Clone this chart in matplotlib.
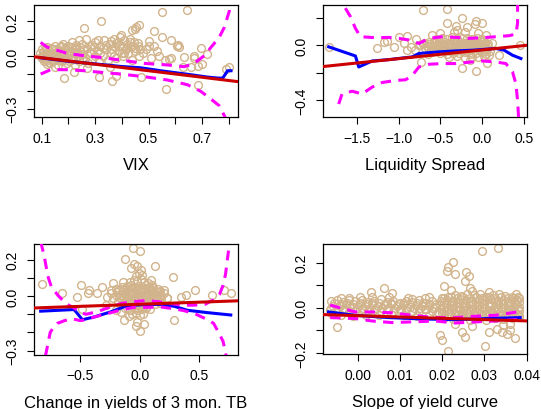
#!/usr/bin/env python3
"""
Four partial-effect panels: scatter of residuals vs. each regressor, with a
smooth fit (blue), its pointwise band (magenta dashes) and the linear fit (red).
Writes out.png.
"""
import matplotlib
matplotlib.use("Agg")
import matplotlib.pyplot as plt

# ---------------- VIX ----------------
vix_x = [0.095, 0.10, 0.10, 0.105, 0.11, 0.11, 0.115, 0.12, 0.12, 0.125,
         0.13, 0.135, 0.14, 0.14, 0.145, 0.15, 0.155, 0.16, 0.16, 0.165,
         0.17, 0.175, 0.18, 0.18, 0.185, 0.19, 0.195, 0.20, 0.20, 0.205,
         0.21, 0.215, 0.22, 0.225, 0.23, 0.235, 0.24, 0.24, 0.245, 0.25,
         0.255, 0.26, 0.265, 0.27, 0.275, 0.28, 0.285, 0.29, 0.295, 0.30,
         0.31, 0.315, 0.32, 0.33, 0.335, 0.34, 0.35, 0.355, 0.36, 0.37,
         0.375, 0.38, 0.385, 0.39, 0.395, 0.40, 0.405, 0.41, 0.415, 0.42,
         0.425, 0.43, 0.435, 0.44, 0.445, 0.45, 0.46, 0.465, 0.47, 0.48,
         0.55, 0.646, 0.321, 0.259, 0.465, 0.455, 0.448, 0.44, 0.396, 0.521,
         0.55, 0.584, 0.61, 0.605, 0.615, 0.696, 0.721, 0.67, 0.672, 0.634,
         0.585, 0.575, 0.684, 0.70, 0.66, 0.628, 0.565, 0.684, 0.79, 0.80,
         0.365, 0.184, 0.221, 0.315, 0.378, 0.471, 0.359, 0.50, 0.52, 0.53,
         0.49, 0.51, 0.54, 0.56, 0.12, 0.15, 0.50, 0.46, 0.355, 0.27]
vix_y = [0.02, -0.01, 0.04, 0.00, 0.03, -0.03, 0.01, 0.05, -0.02, 0.02,
         -0.04, 0.00, 0.04, -0.02, 0.02, 0.06, -0.01, 0.03, -0.05, 0.01,
         0.05, -0.03, 0.02, 0.07, -0.01, 0.04, -0.04, 0.01, 0.06, 0.03,
         -0.02, 0.08, 0.02, -0.05, 0.05, 0.00, 0.09, -0.03, 0.03, 0.07,
         -0.01, 0.04, 0.10, 0.01, -0.04, 0.06, 0.02, -0.02, 0.05, 0.08,
         0.03, -0.03, 0.06, 0.00, 0.09, 0.04, -0.02, 0.07, 0.02, 0.10,
         0.05, -0.01, 0.08, 0.03, 0.11, 0.06, 0.00, 0.09, 0.04, 0.07,
         0.02, 0.10, 0.05, -0.02, 0.08, 0.03, 0.06, 0.00, 0.04, 0.02,
         0.25, 0.263, 0.202, 0.16, 0.179, 0.165, 0.155, 0.15, 0.12, 0.145,
         0.107, 0.091, 0.065, 0.055, 0.05, 0.044, 0.011, 0.003, -0.01, -0.008,
         -0.01, -0.015, -0.055, -0.045, -0.06, -0.065, -0.189, -0.166, -0.075, -0.065,
         -0.141, -0.126, -0.093, -0.118, -0.112, -0.122, 0.088, 0.06, 0.055, 0.03,
         0.04, -0.01, 0.00, -0.02, -0.046, -0.06, 0.085, 0.075, -0.06, -0.07]
# extra points filling the dense part of the cloud
vix_core_x = [0.098, 0.103, 0.108, 0.113, 0.118, 0.123, 0.128, 0.133, 0.138, 0.143,
              0.148, 0.153, 0.158, 0.163, 0.168, 0.173, 0.178, 0.183, 0.188, 0.193,
              0.198, 0.203, 0.208, 0.213, 0.218, 0.223, 0.228, 0.233, 0.238, 0.243,
              0.25, 0.26, 0.27, 0.28, 0.29, 0.30, 0.32, 0.34, 0.36, 0.38,
              0.40, 0.42, 0.44, 0.33, 0.31, 0.37, 0.39, 0.41, 0.43, 0.45]
vix_core_y = [-0.005, 0.015, -0.015, 0.045, 0.005, -0.035, 0.03, 0.045, 0.01, -0.03,
              0.0, 0.04, 0.015, -0.025, 0.025, 0.055, -0.02, 0.01, 0.045, -0.01,
              0.025, -0.03, 0.05, 0.015, -0.01, 0.04, 0.065, 0.02, -0.015, 0.05,
              0.01, -0.02, 0.045, 0.025, 0.065, 0.0, 0.015, 0.065, 0.04, 0.075,
              0.02, 0.045, 0.06, 0.045, 0.09, 0.0, 0.055, 0.015, 0.08, 0.045]
vix_fit_x = [0.095, 0.2, 0.3, 0.4, 0.47, 0.55, 0.65, 0.72, 0.76, 0.778, 0.79, 0.796, 0.809]
vix_fit_y = [-0.01, -0.03, -0.045, -0.06, -0.067, -0.085, -0.105, -0.12, -0.126, -0.126, -0.099, -0.084, -0.084]
vix_up_x = [0.096, 0.121, 0.196, 0.259, 0.321, 0.396, 0.484, 0.571, 0.634, 0.671, 0.709, 0.734, 0.765, 0.784, 0.803, 0.806]
vix_up_y = [0.078, 0.05, 0.015, 0.002, -0.008, -0.023, -0.042, -0.051, -0.061, -0.042, 0.002, 0.05, 0.107, 0.164, 0.259, 0.297]
vix_lo_x = [0.096, 0.134, 0.196, 0.259, 0.321, 0.396, 0.484, 0.571, 0.646, 0.696, 0.734, 0.765, 0.784, 0.79]
vix_lo_y = [-0.103, -0.078, -0.078, -0.084, -0.093, -0.103, -0.118, -0.137, -0.164, -0.202, -0.246, -0.284, -0.341, -0.36]
vix_lin = (0.009, -0.186)  # intercept, slope

# ---------------- Liquidity spread ----------------
liq_x = [-0.55, -0.48, -0.42, -0.36, -0.3, -0.24, -0.18, -0.12, -0.06, 0.0,
         -0.7, -0.63, -0.57, -0.51, -0.45, -0.39, -0.33, -0.27, -0.21, -0.15, -0.09, -0.03, 0.03,
         -0.74, -0.66, -0.6, -0.54, -0.48, -0.42, -0.36, -0.3, -0.24, -0.18, -0.12, -0.06, 0.0, 0.06,
         -0.68, -0.61, -0.55, -0.49, -0.43, -0.37, -0.31, -0.25, -0.19, -0.13, -0.07, -0.01, 0.05,
         -0.6, -0.5, -0.42, -0.35, -0.28, -0.21, -0.14, -0.07, 0.0, 0.05,
         -0.4, -0.3, -0.2, -0.12, -0.05, 0.02,
         -0.704, -0.424, -0.236, -0.076, -0.088, -0.176, -0.416, 0.004, -0.316, -0.336,
         -1.256, -1.176, -1.136, -1.056, -0.996, -0.896, -0.936, -0.896, -0.856, -0.756,
         -1.836, -0.736, -0.236, -0.068, 0.056, 0.204, 0.452, -0.79,
         -0.2, -0.05, 0.05, -0.6, -0.65, 0.1, 0.12, -0.5, 0.08, -0.3, -0.8, -0.15]
liq_y = [0.045, 0.055, 0.05, 0.06, 0.048, 0.058, 0.052, 0.05, 0.055, 0.045,
         0.02, 0.025, 0.03, 0.022, 0.028, 0.02, 0.03, 0.025, 0.02, 0.028, 0.022, 0.03, 0.02,
         0.0, -0.005, 0.005, 0.0, -0.004, 0.004, -0.002, 0.003, -0.005, 0.002, 0.0, -0.003, 0.004, 0.0,
         -0.02, -0.028, -0.022, -0.03, -0.025, -0.02, -0.028, -0.022, -0.03, -0.025, -0.02, -0.028, -0.025,
         -0.05, -0.055, -0.06, -0.052, -0.058, -0.05, -0.06, -0.055, -0.05, -0.06,
         -0.085, -0.08, -0.09, -0.082, -0.088, -0.08,
         0.257, 0.267, 0.202, 0.183, 0.158, 0.138, 0.163, 0.163, 0.143, 0.101,
         -0.017, 0.027, 0.035, -0.015, 0.059, 0.072, 0.02, -0.035, -0.01, 0.005,
         -0.01, -0.121, -0.163, -0.188, -0.128, -0.072, 0.002, 0.045,
         0.1, 0.09, 0.08, 0.08, -0.06, -0.04, 0.02, 0.09, -0.07, 0.11, -0.03, -0.11]
liq_core_x = [-0.71, -0.64, -0.58, -0.52, -0.46, -0.4, -0.34, -0.28, -0.22, -0.16, -0.1, -0.04, 0.02, 0.07,
              -0.65, -0.57, -0.5, -0.44, -0.38, -0.32, -0.26, -0.2, -0.14, -0.08, -0.02, 0.04,
              -0.45, -0.38, -0.31, -0.24, -0.17, -0.1, -0.03, 0.03,
              -0.52, -0.33, -0.15, 0.01]
liq_core_y = [0.012, 0.01, 0.015, 0.012, 0.014, 0.012, 0.015, 0.012, 0.01, 0.014, 0.012, 0.015, 0.01, 0.012,
              -0.012, -0.014, -0.01, -0.013, -0.015, -0.01, -0.012, -0.014, -0.01, -0.013, -0.015, -0.01,
              -0.04, -0.042, -0.038, -0.04, -0.044, -0.04, -0.038, -0.042,
              0.038, 0.04, 0.038, 0.036]
liq_fit_x = [-1.836, -1.516, -1.476, -1.316, -1.116, -0.836, -0.756, -0.516, -0.316, -0.116, 0.164, 0.264, 0.364, 0.464]
liq_fit_y = [-0.01, -0.077, -0.158, -0.114, -0.104, -0.084, -0.059, -0.047, -0.04, -0.035, -0.022, -0.035, -0.072, -0.096]
liq_up_x = [-1.636, -1.576, -1.516, -1.456, -1.276, -1.116, -0.996, -0.876, -0.756, -0.636, -0.476,
            -0.316, -0.156, 0.004, 0.164, 0.324, 0.404, 0.424, 0.424]
liq_up_y = [0.274, 0.212, 0.126, 0.064, 0.057, 0.059, 0.052, 0.04, 0.015, 0.052, 0.064,
            0.059, 0.052, 0.057, 0.064, 0.072, 0.084, 0.163, 0.3]
liq_lo_x = [-1.716, -1.676, -1.556, -1.436, -1.316, -1.196, -1.036, -0.916, -0.836, -0.756, -0.636,
            -0.476, -0.316, -0.156, 0.004, 0.164, 0.284, 0.364, 0.404, 0.424, 0.436]
liq_lo_y = [-0.43, -0.356, -0.336, -0.356, -0.306, -0.272, -0.257, -0.252, -0.22, -0.158, -0.138,
            -0.133, -0.133, -0.123, -0.114, -0.121, -0.133, -0.195, -0.281, -0.405, -0.528]
liq_lin = (-0.033, 0.064)

# ---------------- Change in 3m TB yields ----------------
tb_x = [-0.08, -0.05, -0.02, 0.01, 0.04, 0.07,
        -0.2, -0.15, -0.11, -0.07, -0.04, -0.01, 0.02, 0.05, 0.08, 0.11, 0.15,
        -0.24, -0.19, -0.15, -0.12, -0.09, -0.06, -0.03, 0.0, 0.03, 0.06, 0.09, 0.12, 0.16, 0.2,
        -0.22, -0.17, -0.13, -0.1, -0.07, -0.04, -0.01, 0.02, 0.05, 0.08, 0.11, 0.14, 0.18, 0.23,
        -0.18, -0.13, -0.09, -0.06, -0.03, 0.0, 0.03, 0.06, 0.09, 0.13, 0.17,
        -0.12, -0.08, -0.04, -0.01, 0.02, 0.05, 0.09,
        -0.06, -0.03, 0.0, 0.03,
        -0.055, 0.003, -0.125, -0.069, -0.047, -0.019, 0.009, -0.005, 0.126, 0.277,
        -0.822, -0.654, -0.522, -0.489, -0.433, -0.424, -0.36, -0.315, -0.243, -0.226,
        -0.27, -0.14, 0.093, 0.107, 0.205, 0.228, 0.345, 0.386, 0.465, 0.61,
        0.764, 0.708, 0.289, 0.003, -0.033, -0.131, -0.089, 0.037, -0.019, -0.48,
        -0.2, -0.159, -0.285, -0.03, 0.02]
tb_y = [0.075, 0.09, 0.082, 0.095, 0.078, 0.07,
        0.04, 0.05, 0.055, 0.06, 0.05, 0.058, 0.052, 0.06, 0.048, 0.045, 0.04,
        0.015, 0.02, 0.025, 0.018, 0.028, 0.022, 0.03, 0.02, 0.026, 0.02, 0.028, 0.018, 0.022, 0.015,
        -0.01, -0.005, -0.012, -0.008, 0.0, -0.01, -0.004, -0.012, -0.006, 0.0, -0.01, -0.006, -0.012, -0.008,
        -0.035, -0.04, -0.045, -0.038, -0.042, -0.036, -0.044, -0.04, -0.035, -0.042, -0.038,
        -0.068, -0.075, -0.07, -0.078, -0.072, -0.066, -0.07,
        -0.1, -0.095, -0.105, -0.098,
        0.267, 0.248, 0.204, 0.154, 0.178, 0.163, 0.144, 0.126, 0.163, 0.107,
        0.065, 0.015, -0.004, 0.059, 0.015, 0.033, 0.015, 0.048, 0.033, 0.07,
        -0.004, 0.08, 0.089, 0.061, 0.033, -0.013, -0.007, 0.006, 0.033, 0.006,
        0.019, 0.033, -0.13, -0.193, -0.167, -0.13, -0.111, -0.152, -0.143, -0.069,
        -0.074, -0.087, -0.05, 0.11, 0.115]
tb_core_x = [-0.17, -0.13, -0.1, -0.075, -0.05, -0.025, 0.0, 0.025, 0.05, 0.075, 0.1, 0.13, 0.17,
             -0.2, -0.16, -0.115, -0.085, -0.055, -0.025, 0.005, 0.035, 0.065, 0.095, 0.125, 0.17,
             -0.15, -0.11, -0.075, -0.045, -0.015, 0.015, 0.045, 0.075, 0.11, 0.15,
             -0.06, -0.03, 0.0, 0.03, 0.06]
tb_core_y = [0.035, 0.04, 0.04, 0.045, 0.038, 0.044, 0.04, 0.038, 0.045, 0.036, 0.034, 0.03, 0.028,
             0.005, 0.005, 0.007, 0.01, 0.006, 0.01, 0.005, 0.008, 0.01, 0.005, 0.003, 0.006,
             -0.022, -0.025, -0.02, -0.028, -0.022, -0.026, -0.02, -0.025, -0.022, -0.02,
             -0.055, -0.06, -0.055, -0.058, -0.052]
tb_fit_x = [-0.83, -0.55, -0.522, -0.48, -0.383, -0.243, -0.131, -0.047, 0.065, 0.177, 0.289, 0.4, 0.568, 0.764]
tb_fit_y = [-0.083, -0.074, -0.096, -0.13, -0.115, -0.087, -0.059, -0.05, -0.046, -0.046, -0.056, -0.078, -0.091, -0.104]
tb_up_x = [-0.83, -0.80, -0.77, -0.74, -0.68, -0.61, -0.55, -0.50, -0.45, -0.35, -0.25, -0.15,
           -0.05, 0.05, 0.15, 0.25, 0.35, 0.45, 0.55, 0.62, 0.67, 0.70, 0.72, 0.745]
tb_up_y = [0.30, 0.22, 0.11, 0.05, 0.0, -0.045, -0.065, -0.09, -0.10, -0.085, -0.06, -0.04,
           -0.03, -0.025, -0.03, -0.04, -0.05, -0.05, -0.045, -0.02, 0.01, 0.06, 0.12, 0.25]
tb_lo_x = [-0.79, -0.75, -0.72, -0.69, -0.63, -0.57, -0.53, -0.50, -0.45, -0.38, -0.28, -0.15,
           -0.05, 0.05, 0.18, 0.29, 0.37, 0.46, 0.57, 0.62, 0.67, 0.70, 0.725]
tb_lo_y = [-0.33, -0.2, -0.17, -0.15, -0.135, -0.125, -0.13, -0.135, -0.13, -0.115, -0.098, -0.075,
           -0.062, -0.062, -0.06, -0.07, -0.08, -0.096, -0.13, -0.15, -0.21, -0.25, -0.33]
tb_lin = (-0.045, 0.023)

# ---------------- Slope of yield curve ----------------
slope_x = [-0.0062, -0.0048, -0.0035, -0.002, -0.0005, 0.001, 0.0025, 0.004, 0.0055, 0.007, 0.0085, 0.010,
           0.0115, 0.013, 0.0145, 0.016, 0.0175,
           -0.0058, -0.0042, -0.0028, -0.0012, 0.0003, 0.0018, 0.0033, 0.0048, 0.0063, 0.0078, 0.0093,
           0.0108, 0.0123, 0.0138, 0.0153, 0.0168, 0.0183,
           -0.0065, -0.005, -0.0035, -0.002, -0.0005, 0.001, 0.0025, 0.004, 0.0055, 0.007, 0.0085, 0.010,
           0.0115, 0.013, 0.0145, 0.016, 0.0175, 0.019,
           -0.006, -0.004, -0.001, 0.002, 0.005, 0.008, 0.011, 0.014, 0.017,
           -0.004, 0.0035, 0.0075, 0.012, 0.016,
           0.0032, 0.0063, 0.0081, 0.013, 0.0168, -0.0049, 0.0005, -0.002,
           0.020, 0.0215, 0.023, 0.0245, 0.026, 0.0275, 0.029, 0.0305, 0.032, 0.0335, 0.035, 0.0365, 0.038,
           0.0198, 0.0212, 0.0227, 0.0242, 0.0257, 0.0272, 0.0287, 0.0302, 0.0317, 0.0332, 0.0347, 0.0362, 0.0377,
           0.0195, 0.021, 0.0225, 0.024, 0.0255, 0.027, 0.0285, 0.030, 0.0315, 0.033, 0.0345, 0.036, 0.0375,
           0.0198, 0.0212, 0.0227, 0.0242, 0.0257, 0.0272, 0.0287, 0.0302, 0.0317, 0.0332, 0.0347, 0.0362, 0.0380,
           0.020, 0.0215, 0.023, 0.0245, 0.026, 0.0275, 0.029, 0.0305, 0.032, 0.0335, 0.035, 0.0365, 0.038,
           0.0205, 0.0225, 0.0245, 0.0265, 0.0285, 0.0305, 0.0325, 0.0345, 0.0365, 0.0382,
           0.0295, 0.0332, 0.0226, 0.0213, 0.0212, 0.0231, 0.0257, 0.0263, 0.0255, 0.0267,
           0.0204, 0.022, 0.0271, 0.031, 0.0374, 0.0196, 0.02, 0.0213, 0.0301, 0.0247,
           0.0255, 0.031, 0.033, 0.0342, 0.0354, 0.0362, 0.0372, 0.0345, 0.027, 0.023, 0.036]
slope_y = [0.03, 0.035, 0.025, 0.033, 0.028, 0.036, 0.024, 0.03, 0.038, 0.027, 0.032, 0.022,
           0.03, 0.026, 0.034, 0.02, 0.028,
           0.01, 0.008, 0.015, 0.005, 0.012, 0.009, 0.014, 0.006, 0.011, 0.016, 0.007,
           0.012, 0.004, 0.013, 0.008, 0.01, 0.005,
           -0.01, -0.015, -0.008, -0.018, -0.012, -0.006, -0.016, -0.01, -0.014, -0.007, -0.017, -0.011,
           -0.009, -0.015, -0.012, -0.006, -0.013, -0.02,
           -0.028, -0.032, -0.035, -0.03, -0.033, -0.027, -0.031, -0.036, -0.03,
           0.045, 0.05, 0.048, 0.044, 0.042,
           0.071, 0.086, 0.064, 0.04, 0.049, -0.084, 0.05, 0.045,
           0.045, 0.05, 0.058, 0.052, 0.06, 0.055, 0.062, 0.05, 0.058, 0.062, 0.054, 0.048, 0.05,
           0.03, 0.036, 0.032, 0.038, 0.034, 0.03, 0.037, 0.033, 0.039, 0.031, 0.036, 0.032, 0.035,
           0.012, 0.018, 0.014, 0.02, 0.01, 0.016, 0.013, 0.019, 0.011, 0.017, 0.015, 0.012, 0.018,
           -0.004, -0.008, -0.002, -0.006, -0.01, -0.003, -0.007, -0.001, -0.009, -0.005, -0.002, -0.008, -0.004,
           -0.022, -0.028, -0.024, -0.03, -0.021, -0.027, -0.025, -0.029, -0.023, -0.026, -0.03, -0.022, -0.027,
           -0.045, -0.05, -0.042, -0.055, -0.047, -0.052, -0.044, -0.05, -0.046, -0.04,
           0.253, 0.265, 0.201, 0.179, 0.164, 0.15, 0.16, 0.142, 0.12, 0.086,
           0.096, 0.079, 0.074, 0.068, 0.062, -0.121, -0.144, -0.191, -0.17, -0.107,
           -0.129, -0.107, -0.092, -0.107, -0.114, -0.096, -0.132, -0.075, -0.08, -0.07, -0.07]
slope_core_x = [-0.0055, -0.004, -0.0025, -0.001, 0.0005, 0.002, 0.0035, 0.005, 0.0065, 0.008, 0.0095,
                0.011, 0.0125, 0.014, 0.0155, 0.017, 0.0185,
                -0.0062, -0.0047, -0.0032, -0.0017, -0.0002, 0.0013, 0.0028, 0.0043, 0.0058, 0.0073,
                0.0088, 0.0103, 0.0118, 0.0133, 0.0148, 0.0163, 0.0178,
                0.0205, 0.022, 0.0235, 0.025, 0.0265, 0.028, 0.0295, 0.031, 0.0325, 0.034, 0.0355, 0.037, 0.0383,
                0.0205, 0.022, 0.0235, 0.025, 0.0265, 0.028, 0.0295, 0.031, 0.0325, 0.034, 0.0355, 0.037, 0.0383,
                0.0205, 0.022, 0.0235, 0.025, 0.0265, 0.028, 0.0295, 0.031, 0.0325, 0.034, 0.0355, 0.037, 0.0383,
                0.0205, 0.022, 0.0235, 0.025, 0.0265, 0.028, 0.0295, 0.031, 0.0325, 0.034, 0.0355, 0.037, 0.0383,
                0.0205, 0.022, 0.0235, 0.025, 0.0265, 0.028, 0.0295, 0.031, 0.0325, 0.034, 0.0355, 0.037, 0.0383]
slope_core_y = [0.02, 0.018, 0.022, 0.019, 0.021, 0.017, 0.022, 0.02, 0.018, 0.021, 0.019,
                0.022, 0.017, 0.02, 0.021, 0.018, 0.015,
                -0.002, 0.0, -0.003, 0.001, -0.002, 0.0, -0.004, 0.001, -0.002, -0.001,
                0.0, -0.003, 0.001, -0.002, 0.0, -0.003, -0.001,
                0.044, 0.047, 0.043, 0.046, 0.045, 0.048, 0.044, 0.046, 0.043, 0.047, 0.045, 0.044, 0.042,
                0.024, 0.026, 0.023, 0.025, 0.027, 0.024, 0.026, 0.023, 0.025, 0.027, 0.024, 0.026, 0.025,
                0.004, 0.006, 0.005, 0.003, 0.006, 0.004, 0.005, 0.007, 0.004, 0.005, 0.006, 0.003, 0.005,
                -0.014, -0.016, -0.015, -0.013, -0.016, -0.014, -0.015, -0.017, -0.014, -0.015, -0.016, -0.013, -0.015,
                -0.034, -0.036, -0.035, -0.033, -0.036, -0.034, -0.035, -0.037, -0.034, -0.035, -0.036, -0.033, -0.035]
slope_fit_x = [-0.0069, -0.0006, 0.0073, 0.0152, 0.0231, 0.031, 0.0385]
slope_fit_y = [-0.018, -0.033, -0.043, -0.049, -0.052, -0.047, -0.043]
slope_up_x = [-0.0065, -0.0006, 0.0034, 0.0081, 0.0129, 0.0184, 0.0231, 0.0279, 0.0326, 0.0378]
slope_up_y = [0.012, -0.018, -0.018, -0.022, -0.033, -0.043, -0.043, -0.037, -0.033, -0.018]
slope_lo_x = [-0.0065, -0.0006, 0.0034, 0.0081, 0.0129, 0.0184, 0.0231, 0.0279, 0.0326, 0.0378]
slope_lo_y = [-0.043, -0.047, -0.058, -0.065, -0.062, -0.058, -0.067, -0.062, -0.058, -0.052]
slope_lin = (-0.0345, -0.58)

TAN, BLUE, MAG, RED = "#D2B48C", "#0000FF", "#FF00FF", "#CD0000"

plt.rcParams.update({
    "font.family": ["Liberation Sans", "DejaVu Sans"],
    "axes.linewidth": 0.9,
    "xtick.major.size": 5.2, "ytick.major.size": 5.2,
    "xtick.major.pad": 4.5, "ytick.major.pad": 5.0,
    "xtick.labelsize": 10, "ytick.labelsize": 10,
})


def panel(fig, rect, px, py, fx, fy, ux, uy, lx, ly, lin, xlim, ylim,
          xticks, xlabels, yticks, ylabels, xlabel):
    ax = fig.add_axes(rect)
    ax.plot(px, py, "o", mfc="none", mec=TAN, ms=5.6, mew=1.0, zorder=2)
    ax.plot(fx, fy, "-", color=BLUE, lw=2.2, zorder=3)
    ax.plot(ux, uy, "--", color=MAG, lw=2.2, dashes=(3.4, 2.4), zorder=4)
    ax.plot(lx, ly, "--", color=MAG, lw=2.2, dashes=(3.4, 2.4), zorder=4)
    ax.axline((0, lin[0]), slope=lin[1], color=RED, lw=2.2, zorder=5)
    ax.set_xlim(*xlim); ax.set_ylim(*ylim)
    ax.set_xticks(xticks); ax.set_xticklabels(xlabels)
    ax.set_yticks(yticks); ax.set_yticklabels(ylabels, rotation=90, va="center")
    ax.set_xlabel(xlabel, fontsize=12, labelpad=9)
    return ax


fig = plt.figure(figsize=(5.41, 4.10), dpi=100)

panel(fig, [0.0628, 0.712, 0.377, 0.273], vix_x + vix_core_x, vix_y + vix_core_y, vix_fit_x, vix_fit_y,
      vix_up_x, vix_up_y, vix_lo_x, vix_lo_y, vix_lin, (0.071, 0.835), (-0.349, 0.291),
      [0.1, 0.2, 0.3, 0.4, 0.5, 0.6, 0.7, 0.8], ["0.1", "", "0.3", "", "0.5", "", "0.7", ""],
      [-0.3, -0.2, -0.1, 0.0, 0.1, 0.2], ["\u22120.3", "", "", "0.0", "", "0.2"], "VIX")

panel(fig, [0.597, 0.712, 0.377, 0.273], liq_x + liq_core_x, liq_y + liq_core_y, liq_fit_x, liq_fit_y,
      liq_up_x, liq_up_y, liq_lo_x, liq_lo_y, liq_lin, (-1.904, 0.536), (-0.526, 0.296),
      [-1.5, -1.0, -0.5, 0.0, 0.5], ["\u22121.5", "\u22121.0", "\u22120.5", "0.0", "0.5"],
      [-0.4, -0.2, 0.0, 0.2], ["\u22120.4", "", "0.0", ""], "Liquidity Spread")

panel(fig, [0.0628, 0.1317, 0.377, 0.271], tb_x + tb_core_x, tb_y + tb_core_y, tb_fit_x, tb_fit_y,
      tb_up_x, tb_up_y, tb_lo_x, tb_lo_y, tb_lin, (-0.886, 0.824), (-0.324, 0.287),
      [-0.5, 0.0, 0.5], ["\u22120.5", "0.0", "0.5"],
      [-0.3, -0.2, -0.1, 0.0, 0.1, 0.2], ["\u22120.3", "", "", "0.0", "", "0.2"],
      "Change in yields of 3 mon. TB")

panel(fig, [0.597, 0.134, 0.377, 0.268], slope_x + slope_core_x, slope_y + slope_core_y,
      slope_fit_x, slope_fit_y, slope_up_x, slope_up_y, slope_lo_x, slope_lo_y, slope_lin,
      (-0.0082, 0.0401), (-0.204, 0.281),
      [0.0, 0.01, 0.02, 0.03, 0.04], ["0.00", "0.01", "0.02", "0.03", "0.04"],
      [-0.2, -0.1, 0.0, 0.1, 0.2], ["\u22120.2", "", "0.0", "", "0.2"], "Slope of yield curve")

fig.savefig("out.png", dpi=100)
